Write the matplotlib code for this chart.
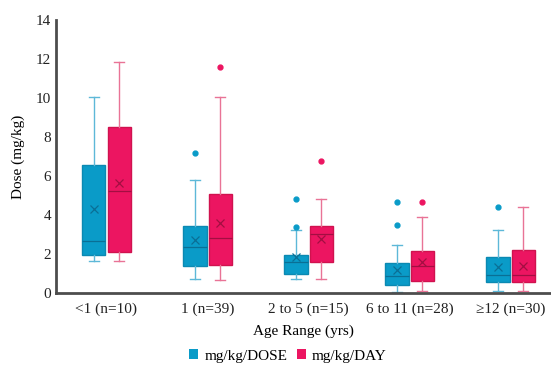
import matplotlib.pyplot as plt
from matplotlib.patches import Patch

# data (box plot summary stats)
groups = ['<1 (n=10)', '1 (n=39)', '2 to 5 (n=15)', '6 to 11 (n=28)', '≥12 (n=30)']

dose_whislo = [1.64, 0.74, 0.73, 0.07, 0.12]
dose_q1 = [1.95, 1.41, 0.99, 0.41, 0.58]
dose_med = [2.67, 2.37, 1.57, 0.87, 0.94]
dose_q3 = [6.56, 3.45, 1.93, 1.56, 1.86]
dose_whishi = [10.04, 5.8, 3.23, 2.48, 3.23]
dose_mean = [4.29, 2.7, 1.86, 1.18, 1.35]
dose_fliers = [[], [7.18], [4.84, 3.38], [4.67, 3.49], [4.39]]

day_whislo = [1.64, 0.68, 0.73, 0.12, 0.12]
day_q1 = [2.12, 1.42, 1.57, 0.63, 0.55]
day_med = [5.25, 2.82, 3.03, 1.4, 0.92]
day_q3 = [8.5, 5.06, 3.45, 2.15, 2.2]
day_whishi = [11.85, 10.05, 4.8, 3.88, 4.43]
day_mean = [5.62, 3.6, 2.79, 1.57, 1.4]
day_fliers = [[], [11.6], [6.78], [4.67], []]

blue = '#0A9BC8'
pink = '#EC1561'

plt.rcParams['font.family'] = ['Liberation Serif', 'DejaVu Serif']

fig = plt.figure(figsize=(5.51, 3.70), dpi=100)
ax = fig.add_axes([0.1016, 0.208, 0.8984, 0.738])


def make_stats(lo, q1, med, q3, hi, mean, fliers):
    return [dict(whislo=a, q1=b, med=c, q3=d, whishi=e, mean=f, fliers=g)
            for a, b, c, d, e, f, g in zip(lo, q1, med, q3, hi, mean, fliers)]


def draw(stats, positions, color, edge, light, dark):
    ax.bxp(stats, positions=positions, widths=0.23, capwidths=0.1,
           showmeans=True, patch_artist=True,
           boxprops=dict(facecolor=color, edgecolor=edge, linewidth=1),
           medianprops=dict(color=dark, linewidth=0.9),
           whiskerprops=dict(color=light, linewidth=1),
           capprops=dict(color=light, linewidth=1),
           meanprops=dict(marker='x', markeredgecolor=dark, markersize=6,
                          markeredgewidth=0.9),
           flierprops=dict(marker='o', markerfacecolor=color,
                           markeredgecolor=color, markersize=3.5))


x = list(range(1, len(groups) + 1))
draw(make_stats(dose_whislo, dose_q1, dose_med, dose_q3, dose_whishi, dose_mean, dose_fliers),
     [i - 0.125 for i in x], blue, '#0B89B2', '#5DB8D8', '#0A6F95')
draw(make_stats(day_whislo, day_q1, day_med, day_q3, day_whishi, day_mean, day_fliers),
     [i + 0.125 for i in x], pink, '#D0124F', '#E97396', '#A30E42')

ax.set_xlim(0.5, 5.4)
ax.set_ylim(0, 14)
ax.set_yticks(range(0, 15, 2))
ax.set_xticks(x)
ax.set_xticklabels(groups)
ax.tick_params(axis='both', length=0, labelsize=11, colors='#222222')
ax.tick_params(axis='x', pad=7)
for side in ['top', 'right']:
    ax.spines[side].set_visible(False)
for side in ['left', 'bottom']:
    ax.spines[side].set_color('#4d4d4d')
    ax.spines[side].set_linewidth(2)

ax.set_xlabel('Age Range (yrs)', fontsize=11, labelpad=6)
ax.set_ylabel('Dose (mg/kg)', fontsize=11, labelpad=8)

handles = [Patch(facecolor=blue, label='mg/kg/DOSE'),
           Patch(facecolor=pink, label='mg/kg/DAY')]
fig.legend(handles=handles, loc='center', bbox_to_anchor=(288 / 551, 1 - 356 / 370),
           ncol=2, frameon=False, fontsize=11, handlelength=0.6, handleheight=0.6,
           handletextpad=0.4, columnspacing=0.6)

fig.savefig('out.png', dpi=100)
